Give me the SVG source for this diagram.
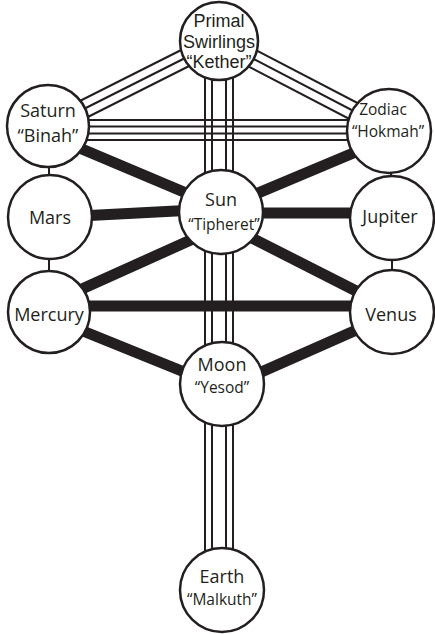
<svg xmlns="http://www.w3.org/2000/svg" width="435" height="634" viewBox="0 0 435 634">
<style>
.node circle{fill:#fff;stroke:#231f20;stroke-width:2.5}
.thin{stroke:#231f20;stroke-width:2;fill:none}
.thick{stroke:#231f20;stroke-width:11;fill:none}
text{font-family:"Open Sans","Liberation Sans",sans-serif;fill:#231f20;text-anchor:middle}
.big{font-size:18px}
.kt{font-family:"Liberation Sans",Arial,sans-serif;font-size:18px}
.sm{font-size:15.5px}
</style>
<rect width="435" height="634" fill="#fff"/>
<g id="connectors">
<line class="thin" x1="219" y1="41" x2="48" y2="127"/>
<line class="thin" x1="223" y1="49" x2="52" y2="135"/>
<line class="thin" x1="215" y1="33" x2="44" y2="119"/>
<line class="thin" x1="219" y1="41" x2="390" y2="130"/>
<line class="thin" x1="215" y1="49" x2="386" y2="138"/>
<line class="thin" x1="223" y1="33" x2="394" y2="122"/>
<line class="thin" x1="48" y1="120" x2="390" y2="120"/>
<line class="thin" x1="48" y1="126.5" x2="390" y2="126.5"/>
<line class="thin" x1="48" y1="133.5" x2="390" y2="133.5"/>
<line class="thin" x1="48" y1="140" x2="390" y2="140"/>
<line class="thin" x1="205" y1="41" x2="205" y2="590"/>
<line class="thin" x1="212" y1="41" x2="212" y2="590"/>
<line class="thin" x1="226" y1="41" x2="226" y2="590"/>
<line class="thin" x1="233" y1="41" x2="233" y2="590"/>
<line class="thin" x1="49" y1="160" x2="49" y2="185"/>
<line class="thin" x1="49" y1="250" x2="49" y2="280"/>
<line class="thin" x1="391" y1="160" x2="391" y2="185"/>
<line class="thin" x1="392" y1="250" x2="392" y2="280"/>
<line class="thick" x1="70" y1="144" x2="198" y2="198"/>
<line class="thick" x1="370" y1="146" x2="244" y2="199"/>
<line class="thick" x1="80" y1="216" x2="195" y2="210"/>
<line class="thick" x1="365" y1="213" x2="245" y2="213"/>
<line class="thick" x1="73" y1="293" x2="204" y2="234"/>
<line class="thick" x1="368" y1="297" x2="242" y2="233"/>
<line class="thick" x1="75" y1="306" x2="368" y2="306"/>
<line class="thick" x1="73" y1="327" x2="199" y2="378"/>
<line class="thick" x1="370" y1="324" x2="248" y2="378"/>
</g>
<g id="kether" class="node"><circle cx="219" cy="41" r="39"/><text class="kt" x="219" y="27">Primal</text><text class="kt" x="219" y="47.5">Swirlings</text><text class="kt" x="219" y="68">“Kether”</text></g>
<g id="binah" class="node"><circle cx="48" cy="126" r="41"/><text class="big" x="48" y="117">Saturn</text><text class="big" x="48" y="142">“Binah”</text></g>
<g id="hokmah" class="node"><circle cx="389" cy="131" r="42"/><text class="sm" x="383" y="115">Zodiac</text><text class="sm" x="388" y="137">“Hokmah”</text></g>
<g id="mars" class="node"><circle cx="50" cy="217" r="42"/><text class="big" x="50" y="224">Mars</text></g>
<g id="jupiter" class="node"><circle cx="392" cy="218" r="42"/><text class="big" x="390" y="223">Jupiter</text></g>
<g id="tipheret" class="node"><circle cx="221" cy="212" r="42"/><text class="big" x="221" y="206">Sun</text><text class="sm" x="224" y="230">“Tipheret”</text></g>
<g id="mercury" class="node"><circle cx="49" cy="312" r="41"/><text class="big" x="49" y="321">Mercury</text></g>
<g id="venus" class="node"><circle cx="392" cy="312" r="42"/><text class="big" x="391" y="321">Venus</text></g>
<g id="yesod" class="node"><circle cx="222" cy="384" r="42"/><text class="big" x="222" y="371">Moon</text><text class="sm" x="222" y="393">“Yesod”</text></g>
<g id="malkuth" class="node"><circle cx="222" cy="590" r="42"/><text class="big" x="222" y="583">Earth</text><text class="sm" x="222" y="605">“Malkuth”</text></g>
</svg>
